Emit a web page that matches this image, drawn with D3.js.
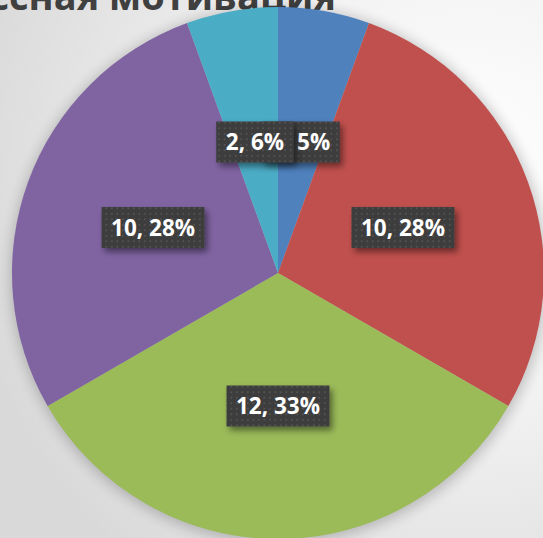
<!DOCTYPE html>
<html>
<head>
<meta charset="utf-8">
<script src="https://cdn.jsdelivr.net/npm/d3@7"></script>
<style>
  html, body { margin: 0; padding: 0; overflow: hidden; }
  body { width: 543px; height: 538px; }
</style>
</head>
<body>
<div id="chart"></div>
<script>
const categories = ["A", "B", "C", "D", "E"];
const values = [2, 10, 12, 10, 2];
const percentLabels = ["5%", "28%", "33%", "28%", "6%"];
const colors = ["#4F81BD", "#C0504D", "#9BBB59", "#8064A2", "#4BACC6"];
const title = "Процессная мотивация";

const width = 543;
const height = 538;
const cx = 278;
const cy = 273;
const radius = 266;

const svg = d3.select("#chart").append("svg")
  .attr("width", width)
  .attr("height", height);

const defs = svg.append("defs");

// light grey backdrop, whiter to the upper right
const bg = defs.append("radialGradient")
  .attr("id", "bg")
  .attr("gradientUnits", "userSpaceOnUse")
  .attr("cx", 470).attr("cy", 170).attr("r", 520);
bg.append("stop").attr("offset", "0%").attr("stop-color", "#ffffff");
bg.append("stop").attr("offset", "45%").attr("stop-color", "#f2f2f2");
bg.append("stop").attr("offset", "100%").attr("stop-color", "#d9d9d9");

const blur = defs.append("filter").attr("id", "pieShadow")
  .attr("x", "-20%").attr("y", "-20%").attr("width", "140%").attr("height", "140%");
blur.append("feGaussianBlur").attr("stdDeviation", 7);

const boxShadow = defs.append("filter").attr("id", "boxShadow")
  .attr("x", "-20%").attr("y", "-30%").attr("width", "150%").attr("height", "170%");
boxShadow.append("feDropShadow")
  .attr("dx", 3).attr("dy", 4).attr("stdDeviation", 3)
  .attr("flood-color", "#000").attr("flood-opacity", 0.45);

// dotted fill used by the data labels
const dots = defs.append("pattern")
  .attr("id", "dots")
  .attr("patternUnits", "userSpaceOnUse")
  .attr("width", 5.5).attr("height", 5.5);
dots.append("rect").attr("width", 5.5).attr("height", 5.5).attr("fill", "#3d3d3d");
dots.append("rect").attr("x", 2).attr("y", 2).attr("width", 1.6).attr("height", 1.6).attr("fill", "#585858");

svg.append("rect")
  .attr("width", width).attr("height", height)
  .attr("fill", "url(#bg)");

svg.append("text")
  .attr("x", 336)
  .attr("y", 10)
  .attr("text-anchor", "end")
  .attr("font-family", "'Open Sans', sans-serif")
  .attr("font-weight", 700)
  .attr("font-size", 38)
  .attr("fill", "#404040")
  .text(title);

const g = svg.append("g").attr("transform", `translate(${cx},${cy})`);

g.append("circle")
  .attr("r", radius + 2)
  .attr("cx", 1).attr("cy", 2)
  .attr("fill", "#000")
  .attr("opacity", 0.22)
  .attr("filter", "url(#pieShadow)");

const pie = d3.pie().sort(null).value((d) => d.value);
const data = categories.map((c, i) => ({ name: c, value: values[i], pct: percentLabels[i], color: colors[i] }));
const arcs = pie(data);

const arc = d3.arc().innerRadius(0).outerRadius(radius);

g.selectAll(".slice")
  .data(arcs)
  .enter()
  .append("path")
  .attr("class", "slice")
  .attr("d", arc)
  .attr("fill", (d) => d.data.color);

// labels sit at half the radius, like the default Excel position
const labels = g.selectAll(".label")
  .data(arcs)
  .enter()
  .append("g")
  .attr("class", "label")
  .attr("transform", (d) => {
    const [x, y] = arc.centroid(d);
    return `translate(${x},${y})`;
  });

labels.each(function (d) {
  const lg = d3.select(this);
  const box = lg.append("rect").attr("fill", "url(#dots)").attr("filter", "url(#boxShadow)");
  const t = lg.append("text")
    .attr("text-anchor", "middle")
    .attr("dy", "0.36em")
    .attr("font-family", "'Open Sans', sans-serif")
    .attr("font-weight", 700)
    .attr("font-size", 22.5)
    .attr("fill", "#ffffff")
    .text(`${d.data.value}, ${d.data.pct}`);
  const w = t.node().getComputedTextLength() + 19;
  const h = 41;
  box.attr("x", -w / 2).attr("y", -h / 2).attr("width", w).attr("height", h);
});
</script>
</body>
</html>
